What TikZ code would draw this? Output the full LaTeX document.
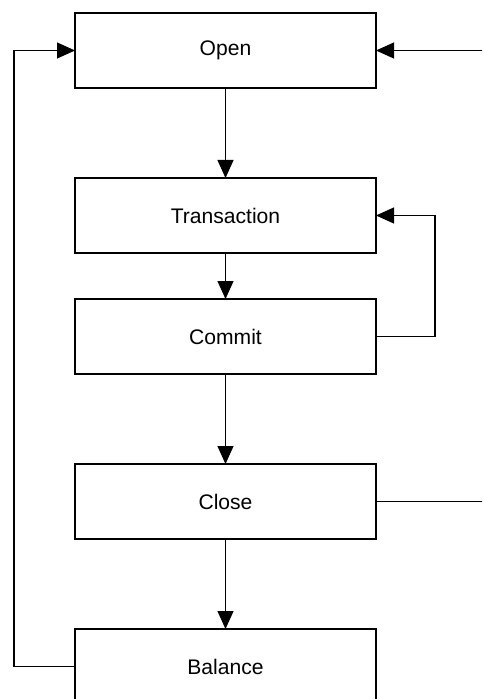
\documentclass[tikz,border=0pt]{standalone}
\usepackage{fontspec}
\setmainfont{Liberation Sans}
\usetikzlibrary{positioning,arrows.meta}

\begin{document}
\begin{tikzpicture}[
node distance = 18mm,
     B/.style = {rectangle, draw, line width=0.7pt, minimum width=60.2mm,
                 minimum height=15mm, inner sep=0pt, outer sep=0pt,
                 font=\fontsize{12}{14}\selectfont},
     L/.style = {line width=0.6pt},
     >={Triangle[length=3.6mm,width=3.2mm]}
                    ]
\useasboundingbox (0,0) rectangle (9.64,-13.98);
\clip (0,0) rectangle (9.64,-13.98);
    \begin{scope}[nodes=B]
\node (open) at (4.51,-1.01) {Open};
\node (trans)  [below=of open]          {Transaction};
\node (commit) [below=9.2mm of trans]   {Commit};
\node (close)  [below=of commit]        {Close};
\node (bal)    [below=of close]         {Balance};
    \end{scope}
% side tracks
\coordinate (lft)  at (0.28,0);
\coordinate (loop) at (8.70,0);
\coordinate (rgt)  at (9.90,0);

\draw[L]   (open)   edge[->] (trans)
           (trans)  edge[->] (commit)
           (commit) edge[->] (close)
           (close)  edge[->] (bal);

\draw[L,->] (commit.east) -- (commit.east -| loop) -- (trans.east -| loop) -- (trans.east);
\draw[L,->] (bal.west) -- (bal.west -| lft) -- (open.west -| lft) -- (open.west);
\draw[L,->] (close.east) -- (close.east -| rgt) -- (open.east -| rgt) -- (open.east);
\end{tikzpicture}
\end{document}
